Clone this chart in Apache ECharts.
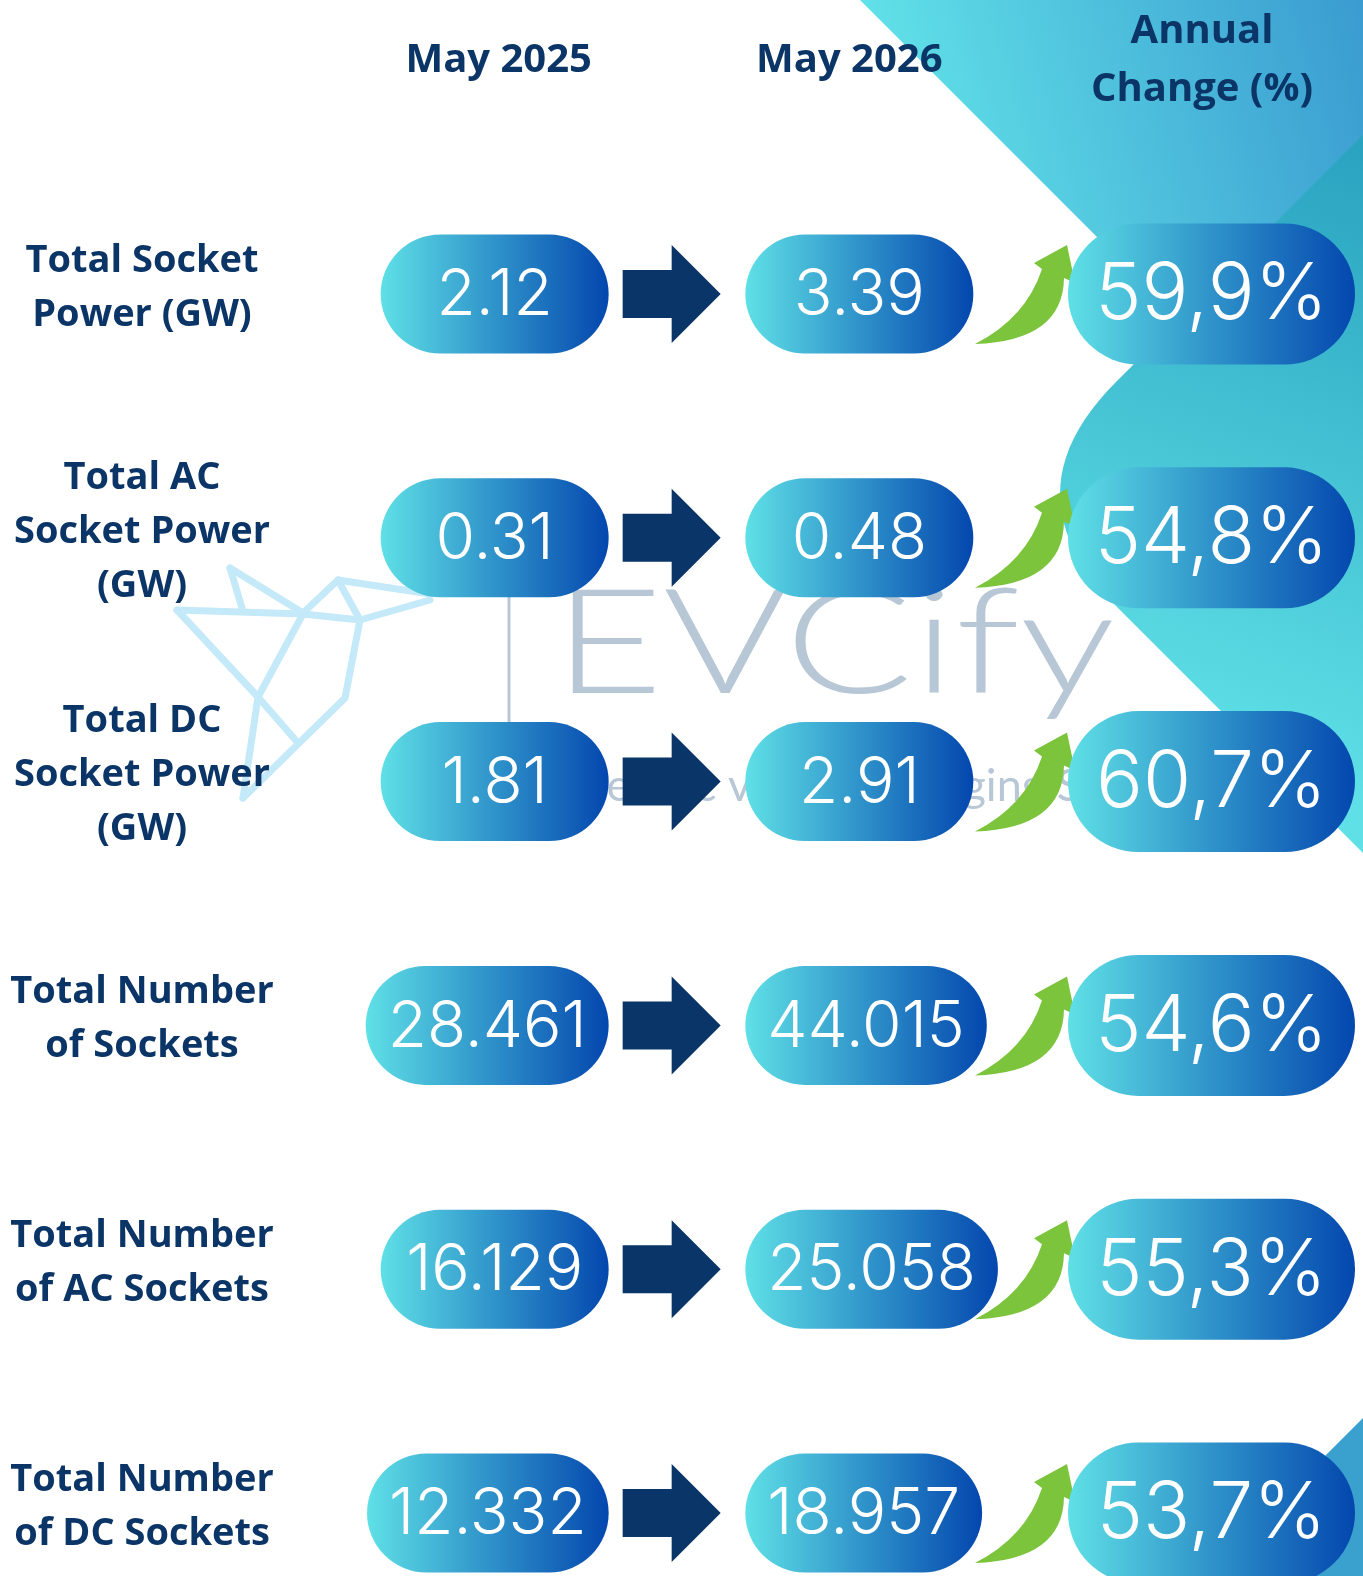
<!DOCTYPE html>
<html>
<head>
<meta charset="utf-8">
<title>EV charging growth</title>
<script src="https://cdn.jsdelivr.net/npm/echarts@6/dist/echarts.min.js"></script>
<style>
  html, body { margin: 0; padding: 0; background: #fff; }
  #chart { width: 1363px; height: 1576px; }
</style>
</head>
<body>
<div id="chart"></div>
<script>
const columns = ["", "May 2025", "May 2026", "Annual\nChange (%)"];
const rowLabels = [
  "Total Socket\nPower (GW)",
  "Total AC\nSocket Power\n(GW)",
  "Total DC\nSocket Power\n(GW)",
  "Total Number\nof Sockets",
  "Total Number\nof AC Sockets",
  "Total Number\nof DC Sockets",
];
const may2025 = [2.12, 0.31, 1.81, 28461, 16129, 12332];
const may2026 = [3.39, 0.48, 2.91, 44015, 25058, 18957];
const annualChange = [59.9, 54.8, 60.7, 54.6, 55.3, 53.7];

const navy = "#0b3566";
const valueFont = { size: 64, family: "Inter", weight: 300 };
const pctFont = { size: 78, family: "Inter", weight: 300 };

// GW values keep two decimals, socket counts use "." as thousands separator
function fmtValue(v) {
  if (v < 100) return v.toFixed(2);
  return String(v).replace(/\B(?=(\d{3})+(?!\d))/g, ".");
}
function fmtPct(v) {
  return v.toFixed(1).replace(".", ",") + "%";
}

const measureCtx = document.createElement("canvas").getContext("2d");
function textWidth(text, f) {
  measureCtx.font = f.weight + " " + f.size + "px " + f.family;
  return measureCtx.measureText(text).width;
}

function pillFill() {
  return new echarts.graphic.LinearGradient(0, 0, 1, 0, [
    { offset: 0, color: "#5fe0e6" },
    { offset: 0.5, color: "#2f93ca" },
    { offset: 1, color: "#0447ae" },
  ]);
}

function pill(x, cy, w, h, text, f) {
  return {
    type: "group",
    children: [
      {
        type: "rect",
        shape: { x: x, y: cy - h / 2, width: w, height: h, r: h / 2 },
        style: { fill: pillFill() },
      },
      {
        type: "text",
        style: {
          text: text,
          x: x + w / 2,
          y: cy + 2,
          align: "center",
          verticalAlign: "middle",
          fill: "#ffffff",
          fontSize: f.size,
          fontFamily: f.family,
          fontWeight: f.weight,
        },
      },
    ],
  };
}

function renderRow(params, api) {
  const i = params.dataIndex;
  const lab = api.coord([0, i]);
  const c1 = api.coord([1, i]);
  const c2 = api.coord([2, i]);
  const c3 = api.coord([3, i]);
  const cy = c1[1];
  const t1 = fmtValue(may2025[i]);
  const t2 = fmtValue(may2026[i]);
  const t3 = fmtPct(annualChange[i]);
  const w1 = Math.max(228, textWidth(t1, valueFont) + 44);
  const w2 = Math.max(228, textWidth(t2, valueFont) + 44);
  const right1 = c1[0] + 110;
  const left2 = c2[0] - 110;
  const left3 = c3[0] - 144;
  const ax = right1 + 14;
  const gx = left3;
  const p = (dx, dy) => gx + dx + " " + (cy + dy);
  const greenPath =
    "M " + p(-93, 50) +
    " Q " + p(-42, 24) + " " + p(-26, -25) +
    " L " + p(-34, -31) +
    " L " + p(-1, -49) +
    " L " + p(7, -11) +
    " L " + p(-4, -16) +
    " Q " + p(-5, 47) + " " + p(-93, 50) + " Z";
  return {
    type: "group",
    children: [
      {
        type: "text",
        style: {
          text: rowLabels[i],
          x: lab[0],
          y: cy - 6,
          align: "center",
          verticalAlign: "middle",
          fill: navy,
          fontSize: 38,
          fontWeight: "bold",
          fontFamily: "Open Sans",
          lineHeight: 54,
        },
      },
      pill(right1 - w1, cy, w1, 119, t1, valueFont),
      {
        type: "polygon",
        shape: {
          points: [
            [ax, cy - 24], [ax + 49, cy - 24], [ax + 49, cy - 49],
            [ax + 98, cy], [ax + 49, cy + 49], [ax + 49, cy + 24], [ax, cy + 24],
          ],
        },
        style: { fill: "#0a3568" },
      },
      pill(left2, cy, w2, 119, t2, valueFont),
      { type: "path", shape: { pathData: greenPath }, style: { fill: "#7cc43c" } },
      pill(left3, cy, 287, 141, t3, pctFont),
    ],
  };
}

const chart = echarts.init(document.getElementById("chart"));

// big rotated square behind the right column, left corner rounded
function diamondPoints() {
  const pts = [[1704, -206], [1116, 382]];
  for (let k = 1; k < 24; k++) {
    const t = k / 24;
    const a = (1 - t) * (1 - t), b = 2 * t * (1 - t), c = t * t;
    pts.push([a * 1116 + b * 1004 + c * 1116, a * 382 + b * 494 + c * 606]);
  }
  pts.push([1116, 606], [1704, 1194], [2404, 494]);
  return pts;
}

// watermark word is stretched to the logo's wide letter shapes
const logoFont = { size: 146, family: "Lato", weight: 300 };
const logoStretch = 562 / textWidth("EVCify", logoFont);

// decorative background and watermark
const birdLines = [
  [[230, 568], [242, 608]],
  [[230, 568], [303, 613]],
  [[177, 610], [303, 614], [360, 620]],
  [[303, 613], [338, 580], [360, 620]],
  [[338, 580], [430, 594]],
  [[360, 620], [430, 600]],
  [[177, 610], [258, 697], [298, 743]],
  [[303, 614], [258, 697], [243, 798]],
  [[360, 620], [345, 698], [243, 798]],
];
const background = [
  {
    type: "polygon",
    z: 0,
    shape: { points: [[860, 0], [1363, 0], [1363, 503]] },
    style: {
      fill: new echarts.graphic.LinearGradient(880, 140, 1363, 0, [
        { offset: 0, color: "#62e4e9" },
        { offset: 1, color: "#3a9bd0" },
      ], true),
    },
  },
  {
    type: "polygon",
    z: 0,
    shape: { points: diamondPoints() },
    style: {
      fill: new echarts.graphic.LinearGradient(1363, 150, 1150, 720, [
        { offset: 0, color: "#2aa3c0" },
        { offset: 1, color: "#5ee0e6" },
      ], true),
    },
  },
  {
    type: "polygon",
    z: 0,
    shape: { points: [[1363, 1418], [1205, 1576], [1363, 1576]] },
    style: { fill: "#3aa0cd" },
  },
  {
    type: "text",
    z: 1,
    x: 553,
    y: 646,
    scaleX: logoStretch,
    style: {
      text: "EVCify",
      x: 0,
      y: 0,
      verticalAlign: "middle",
      fill: "#b8c7d6",
      fontSize: logoFont.size,
      fontFamily: logoFont.family,
      fontWeight: logoFont.weight,
    },
  },
  {
    type: "line",
    z: 1,
    shape: { x1: 509, y1: 578, x2: 509, y2: 722 },
    style: { stroke: "#b8c7d6", lineWidth: 3 },
  },
  {
    type: "text",
    z: 1,
    style: {
      text: "Electric vehicle charging Solutions",
      x: 570,
      y: 786,
      verticalAlign: "middle",
      fill: "#b8c7d6",
      fontSize: 45,
      fontFamily: "Lato",
    },
  },
].concat(
  birdLines.map((pts) => ({
    type: "polyline",
    z: 1,
    shape: { points: pts },
    style: { stroke: "#c4e9f8", lineWidth: 7, lineJoin: "round", lineCap: "round", fill: null },
  })),
);

const headStyle = {
  color: navy,
  fontSize: 40,
  fontWeight: "bold",
  fontFamily: "Open Sans",
  lineHeight: 58,
};

const option = {
  animation: false,
  backgroundColor: "#ffffff",
  graphic: background,
  grid: { left: 142, right: 151, top: 294, bottom: 63, outerBoundsMode: "none" },
  xAxis: {
    type: "category",
    position: "top",
    boundaryGap: false,
    data: columns,
    z: 10,
    axisLine: { show: false },
    axisTick: { show: false },
    splitLine: { show: false },
    axisLabel: Object.assign({
      interval: 0,
      margin: 233,
      verticalAlign: "middle",
      // nudge the last two headers a little left of their column centre
      formatter: function (v, idx) {
        if (idx < 2) return v;
        const tag = idx === 2 ? "s2" : "s3";
        return v.split("\n").map((s) => "{" + tag + "|" + s + "}").join("\n");
      },
      rich: {
        s2: Object.assign({ padding: [0, 12, 0, 0] }, headStyle),
        s3: Object.assign({ padding: [0, 20, 0, 0] }, headStyle),
      },
    }, headStyle),
  },
  yAxis: {
    type: "category",
    inverse: true,
    boundaryGap: false,
    data: rowLabels,
    show: false,
  },
  series: [
    {
      type: "custom",
      silent: true,
      z: 2,
      renderItem: renderRow,
      data: rowLabels.map((l, i) => [1, i]),
    },
  ],
};
chart.setOption(option);
</script>
</body>
</html>
